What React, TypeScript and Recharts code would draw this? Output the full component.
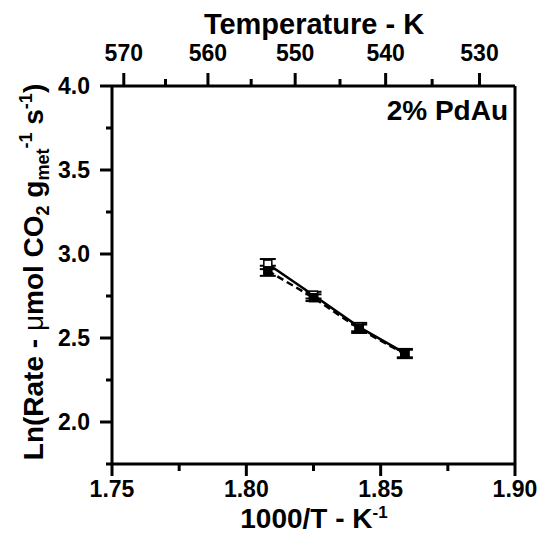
import React from 'react';
import { LineChart, Line, XAxis, YAxis, ErrorBar, ReferenceLine } from 'recharts';

// 1000/T values of the four measured points
const invT = [1.808, 1.825, 1.842, 1.859];
// solid series (open squares)
const lnRateA = [2.94, 2.755, 2.565, 2.41];
const errA = [0.03, 0.02, 0.025, 0.025];
// dashed series (filled squares)
const lnRateB = [2.9, 2.74, 2.555, 2.405];
const errB = [0.03, 0.02, 0.025, 0.025];

const xTicks = [1.75, 1.775, 1.8, 1.825, 1.85, 1.875, 1.9];
const xMajor = [1.75, 1.8, 1.85, 1.9];
const yTicks = [1.75, 2.0, 2.25, 2.5, 2.75, 3.0, 3.25, 3.5, 3.75, 4.0];
const yMajor = [2.0, 2.5, 3.0, 3.5, 4.0];
const tempTicks = [570, 565, 560, 555, 550, 545, 540, 535, 530];

const data = invT.map((x, i) => ({
  x,
  a: lnRateA[i],
  errA: errA[i],
  b: lnRateB[i],
  errB: errB[i],
}));

const FONT = '"Liberation Sans", Arial, Helvetica, sans-serif';
const W = 542;
const H = 534;

const BottomTick = (props: any) => {
  const { x, y, payload } = props;
  const v = payload.value;
  const major = xMajor.some((m) => Math.abs(m - v) < 1e-6);
  return (
    <g>
      <line x1={x} x2={x} y1={y} y2={y + (major ? 12 : 7)} stroke="#000" strokeWidth={3} />
      {major && (
        <text x={x} y={y + 33} textAnchor="middle" fontSize={23} fontWeight="bold" fontFamily={FONT} fill="#000">
          {v.toFixed(2)}
        </text>
      )}
    </g>
  );
};

const TopTick = (props: any) => {
  const { x, y, payload } = props;
  const t = Math.round(1000 / payload.value);
  const major = t % 10 === 0;
  return (
    <g>
      <line x1={x} x2={x} y1={y} y2={y - (major ? 13 : 7)} stroke="#000" strokeWidth={3} />
      {major && (
        <text x={x} y={y - 25} textAnchor="middle" fontSize={23} fontWeight="bold" fontFamily={FONT} fill="#000">
          {t}
        </text>
      )}
    </g>
  );
};

const LeftTick = (props: any) => {
  const { x, y, payload } = props;
  const v = payload.value;
  const major = yMajor.some((m) => Math.abs(m - v) < 1e-6);
  return (
    <g>
      <line x1={x - (major ? 12 : 6)} x2={x} y1={y} y2={y} stroke="#000" strokeWidth={3} />
      {major && (
        <text x={x - 22} y={y + 8} textAnchor="end" fontSize={23} fontWeight="bold" fontFamily={FONT} fill="#000">
          {v.toFixed(1)}
        </text>
      )}
    </g>
  );
};

const squareDot = (fill: string) => (props: any) => {
  const { cx, cy, index } = props;
  return (
    <rect key={`d-${fill}-${index}`} x={cx - 4} y={cy - 4} width={8} height={8} fill={fill} stroke="#000" strokeWidth={1.5} />
  );
};

export default function App() {
  return (
    <div style={{ position: 'absolute', left: 0, top: 0, width: W, height: H, background: '#fff' }}>
      <LineChart width={W} height={H} data={data} margin={{ top: 16, right: 27, bottom: 10, left: 12 }}>
        <XAxis
          xAxisId="bottom"
          dataKey="x"
          type="number"
          orientation="bottom"
          domain={[1.75, 1.9]}
          ticks={xTicks}
          interval={0}
          height={60}
          tickSize={0}
          tickMargin={0}
          tickLine={false}
          axisLine={{ stroke: '#000', strokeWidth: 3 }}
          tick={<BottomTick />}
        />
        <XAxis
          xAxisId="top"
          dataKey="x"
          type="number"
          orientation="top"
          domain={[1.75, 1.9]}
          ticks={tempTicks.map((t) => 1000 / t)}
          interval={0}
          height={70}
          tickSize={0}
          tickMargin={0}
          tickLine={false}
          axisLine={{ stroke: '#000', strokeWidth: 3 }}
          tick={<TopTick />}
        />
        <YAxis
          yAxisId="left"
          type="number"
          domain={[1.75, 4.0]}
          ticks={yTicks}
          interval={0}
          width={100}
          tickSize={0}
          tickMargin={0}
          tickLine={false}
          axisLine={{ stroke: '#000', strokeWidth: 3 }}
          tick={<LeftTick />}
        />
        <ReferenceLine xAxisId="bottom" yAxisId="left" x={1.9} stroke="#000" strokeWidth={3} />
        <Line
          xAxisId="bottom"
          yAxisId="left"
          dataKey="a"
          stroke="#000"
          strokeWidth={2.5}
          dot={squareDot('#fff')}
          isAnimationActive={false}
        >
          <ErrorBar dataKey="errA" direction="y" width={8} stroke="#000" strokeWidth={2} />
        </Line>
        <Line
          xAxisId="bottom"
          yAxisId="left"
          dataKey="b"
          stroke="#000"
          strokeWidth={2.5}
          strokeDasharray="7 4"
          dot={squareDot('#000')}
          isAnimationActive={false}
        >
          <ErrorBar dataKey="errB" direction="y" width={8} stroke="#000" strokeWidth={2} />
        </Line>
        <text x={508} y={120} textAnchor="end" fontSize={28} fontWeight="bold" fontFamily={FONT} fill="#000">
          2% PdAu
        </text>
        <text x={314} y={34} textAnchor="middle" fontSize={29} fontWeight="bold" fontFamily={FONT} fill="#000">
          Temperature - K
        </text>
        <text x={314} y={528} textAnchor="middle" fontSize={28} fontWeight="bold" fontFamily={FONT} fill="#000">
          1000/T - K
          <tspan fontSize={17} dy={-10}>-1</tspan>
        </text>
        <text
          x={43}
          y={272}
          transform="rotate(-90, 43, 272)"
          textAnchor="middle"
          fontSize={28}
          fontWeight="bold"
          fontFamily={FONT}
          fill="#000"
        >
          Ln(Rate - <tspan fontWeight="normal">μ</tspan>mol CO
          <tspan fontSize={18} dy={6}>2</tspan>
          <tspan dy={-6}> g</tspan>
          <tspan fontSize={18} dy={6}>met</tspan>
          <tspan fontSize={18} dy={-17}>-1</tspan>
          <tspan dy={11}> s</tspan>
          <tspan fontSize={18} dy={-11}>-1</tspan>
          <tspan dy={11}>)</tspan>
        </text>
      </LineChart>
    </div>
  );
}
